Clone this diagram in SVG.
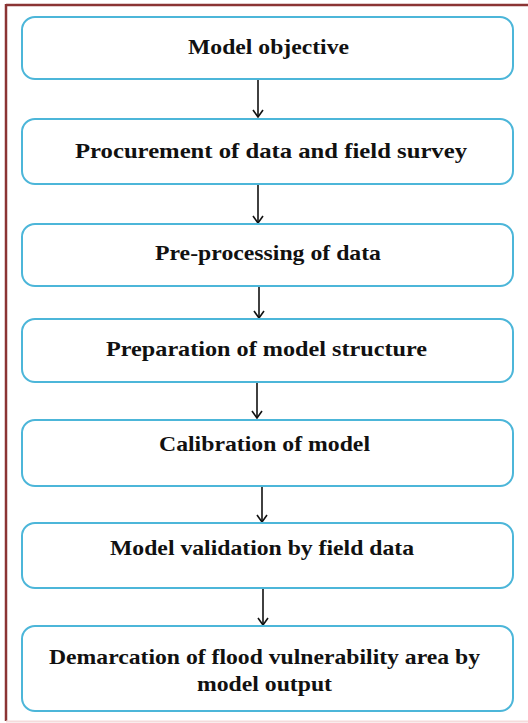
<svg xmlns="http://www.w3.org/2000/svg" width="528" height="723" viewBox="0 0 528 723">
  <style>
    .box { fill: #ffffff; stroke: #4cb6d9; stroke-width: 2; }
    .lbl { font-family: "Liberation Serif", "Times New Roman", serif; font-weight: bold; font-size: 21px; fill: #111111; text-anchor: middle; }
    .conn { stroke: #111111; stroke-width: 1.6; fill: none; marker-end: url(#arr); }
  </style>
  <defs>
    <marker id="arr" viewBox="0 0 10 12" refX="9" refY="6" markerWidth="10" markerHeight="12" markerUnits="userSpaceOnUse" orient="auto">
      <path d="M2,1 L9,6 L2,11" fill="none" stroke="#111111" stroke-width="1.6"/>
    </marker>
  </defs>
  <rect x="0" y="0" width="528" height="723" fill="#ffffff"/>
  <g id="frame">
    <line x1="6" y1="5" x2="528" y2="5" stroke="#8b3434" stroke-width="2.5"/>
    <line x1="6" y1="4" x2="6" y2="721" stroke="#8b3434" stroke-width="2.5"/>
    <line x1="6" y1="721.5" x2="528" y2="721.5" stroke="#f4dcdc" stroke-width="2"/>
  </g>
  <g id="connectors">
    <line class="conn" x1="258" y1="80" x2="258" y2="117"/>
    <line class="conn" x1="258" y1="185" x2="258" y2="223"/>
    <line class="conn" x1="259" y1="287" x2="259" y2="318"/>
    <line class="conn" x1="257" y1="383" x2="257" y2="418"/>
    <line class="conn" x1="262" y1="487" x2="262" y2="522"/>
    <line class="conn" x1="263" y1="589" x2="263" y2="625"/>
  </g>
  <g id="n1">
    <rect class="box" x="22" y="17" width="491" height="62" rx="13"/>
    <text class="lbl" x="268.5" y="54" textLength="161" lengthAdjust="spacingAndGlyphs">Model objective</text>
  </g>
  <g id="n2">
    <rect class="box" x="22" y="119" width="491" height="65" rx="13"/>
    <text class="lbl" x="271" y="158" textLength="392" lengthAdjust="spacingAndGlyphs">Procurement  of data and field survey</text>
  </g>
  <g id="n3">
    <rect class="box" x="22" y="224" width="491" height="62" rx="13"/>
    <text class="lbl" x="268" y="260" textLength="226" lengthAdjust="spacingAndGlyphs">Pre-processing  of data</text>
  </g>
  <g id="n4">
    <rect class="box" x="22" y="319" width="491" height="63" rx="13"/>
    <text class="lbl" x="266.5" y="356" textLength="321" lengthAdjust="spacingAndGlyphs">Preparation  of model structure</text>
  </g>
  <g id="n5">
    <rect class="box" x="22" y="420" width="491" height="66" rx="13"/>
    <text class="lbl" x="264.5" y="451" textLength="211" lengthAdjust="spacingAndGlyphs">Calibration of model</text>
  </g>
  <g id="n6">
    <rect class="box" x="22" y="523" width="491" height="65" rx="13"/>
    <text class="lbl" x="262" y="555" textLength="304" lengthAdjust="spacingAndGlyphs">Model validation by field data</text>
  </g>
  <g id="n7">
    <rect class="box" x="22" y="626" width="491" height="85" rx="13"/>
    <text class="lbl" x="264.5" y="664" textLength="431" lengthAdjust="spacingAndGlyphs">Demarcation  of flood vulnerability area by</text>
    <text class="lbl" x="264.5" y="691" textLength="135" lengthAdjust="spacingAndGlyphs">model output</text>
  </g>
</svg>
